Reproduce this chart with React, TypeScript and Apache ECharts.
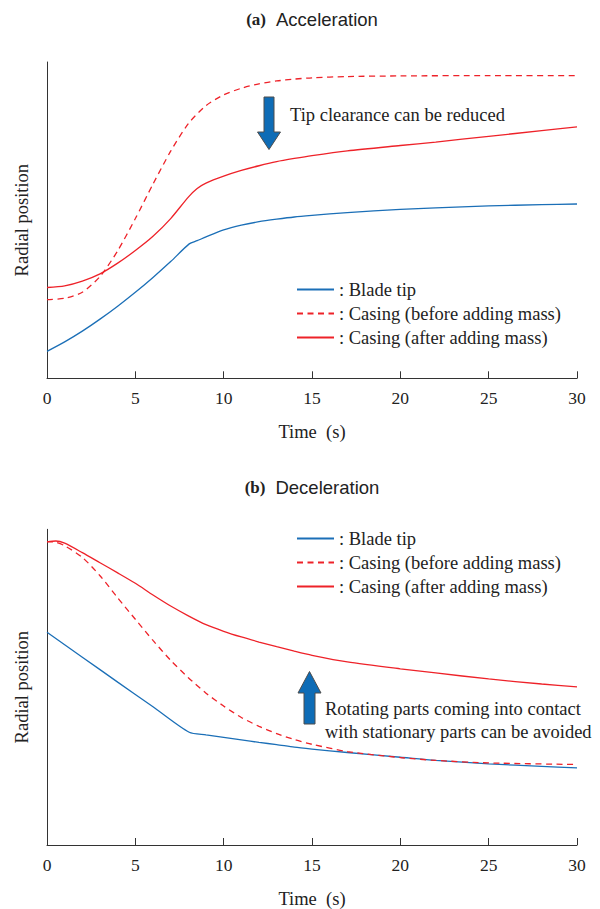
import React, { useEffect, useRef } from "react";
import * as echarts from "echarts";

// ---------- (a) Acceleration ----------
const bladeAccT = [0, 1, 2, 3, 4, 5, 6, 7, 8.05, 8.5, 9, 10, 11, 12, 13, 14, 15, 17, 20, 22, 25, 28, 30];
const bladeAccV = [8.5, 11.5, 14.9, 18.7, 22.8, 27.2, 31.9, 36.9, 42.5, 43.5, 44.7, 46.9, 48.4, 49.5, 50.3, 51.0, 51.5, 52.4, 53.4, 53.9, 54.5, 54.9, 55.1];

const casingBeforeAccT = [0, 1, 2, 3, 4, 5, 6, 7, 8, 9, 10, 11, 12, 13, 14, 15, 17, 20, 25, 30];
const casingBeforeAccV = [24.9, 25.3, 27.2, 32.2, 40.3, 50.5, 61.4, 71.8, 80.5, 86.2, 89.6, 91.7, 93.1, 94.0, 94.6, 95.0, 95.4, 95.6, 95.7, 95.7];

const casingAfterAccT = [0, 1, 2, 3, 4, 5, 6, 7, 8, 8.5, 9, 10, 11, 12, 13, 14, 15, 17, 20, 22, 25, 28, 30];
const casingAfterAccV = [28.7, 29.2, 30.7, 33.0, 36.4, 40.4, 44.9, 50.5, 57.3, 60.0, 61.7, 63.9, 65.7, 67.2, 68.5, 69.5, 70.4, 71.9, 73.6, 74.7, 76.5, 78.3, 79.5];

// ---------- (b) Deceleration ----------
const bladeDecT = [0, 2, 4, 6, 8.05, 9, 10, 11, 12, 13, 14, 15, 17, 20, 22, 25, 28, 30];
const bladeDecV = [67.4, 59.5, 51.6, 43.8, 35.7, 34.9, 34.1, 33.3, 32.5, 31.8, 31.0, 30.4, 29.3, 27.8, 26.8, 25.7, 24.9, 24.4];

const casingBeforeDecT = [0, 0.5, 1, 2, 3, 4, 5, 6, 7, 8, 9, 10, 11, 12, 13, 14, 15, 17, 20, 22, 25, 30];
const casingBeforeDecV = [96.1, 95.9, 94.8, 91.1, 85.3, 78.3, 71.5, 64.8, 58.5, 53.0, 48.1, 44.0, 40.4, 37.6, 35.3, 33.4, 31.9, 29.6, 27.7, 26.8, 26.0, 25.5];

const casingAfterDecT = [0, 0.5, 1, 2, 3, 4, 5, 6, 7, 8, 9, 10, 11, 12, 13, 14, 15, 17, 20, 22, 25, 28, 30];
const casingAfterDecV = [96.0, 96.3, 95.6, 92.6, 89.4, 86.2, 82.9, 79.2, 75.7, 72.6, 69.8, 67.7, 65.9, 64.3, 62.8, 61.4, 60.1, 58.0, 55.8, 54.5, 52.6, 51.0, 50.1];

const seriesNames = ["Blade tip", "Casing (before adding mass)", "Casing (after adding mass)"];
const panelTitles = [["(a)", "Acceleration"], ["(b)", "Deceleration"]];
const xTitle = "Time  (s)";
const yTitle = "Radial position";
const accelNote = "Tip clearance can be reduced";
const decelNote = "Rotating parts coming into contact\nwith stationary parts can be avoided";

const BLUE = "#1b6fb7";
const RED = "#ee2229";
const SERIF = "Liberation Serif";
const SANS = "Liberation Sans";
const TEXT = "#222";

const zip = (t: number[], v: number[]) => t.map((x, i) => [x, v[i]]);

function lineSeries(name: string, t: number[], v: number[], idx: number, color: string, dashed: boolean) {
  return {
    name,
    type: "line",
    xAxisIndex: idx,
    yAxisIndex: idx,
    data: zip(t, v),
    symbol: "none",
    showSymbol: false,
    smooth: 0.25,
    lineStyle: { color, width: 1.3, type: dashed ? [6, 4.5] : "solid" },
    itemStyle: { color },
    emphasis: { disabled: true },
  };
}

function xAxisFor(idx: number) {
  return {
    type: "value",
    gridIndex: idx,
    min: 0,
    max: 30,
    interval: 5,
    name: xTitle,
    nameLocation: "middle",
    nameGap: 44,
    nameTextStyle: { fontFamily: SERIF, fontSize: 18.5, color: TEXT },
    axisLine: { lineStyle: { color: "#333", width: 1 } },
    axisTick: { show: true, inside: true, length: 7, lineStyle: { color: "#333" } },
    axisLabel: { fontFamily: SERIF, fontSize: 17.5, color: TEXT, margin: 11 },
    splitLine: { show: false },
  };
}

function yAxisFor(idx: number) {
  return {
    type: "value",
    gridIndex: idx,
    min: 0,
    max: 100,
    name: yTitle,
    nameLocation: "middle",
    nameGap: 16,
    nameTextStyle: { fontFamily: SERIF, fontSize: 18.5, color: TEXT },
    axisLine: { show: true, lineStyle: { color: "#333", width: 1 } },
    axisTick: { show: false },
    axisLabel: { show: false },
    splitLine: { show: false },
  };
}

function legendFor(top: number) {
  return {
    orient: "vertical",
    left: 296,
    top,
    padding: 0,
    itemWidth: 37,
    itemHeight: 14,
    itemGap: 5,
    align: "left",
    selectedMode: false,
    data: seriesNames,
    formatter: (n: string) => ": " + n,
    itemStyle: { opacity: 0 },
    textStyle: { fontFamily: SERIF, fontSize: 18.5, color: TEXT },
  };
}

function titleFor(idx: number, top: number) {
  return {
    text: `{a|${panelTitles[idx][0]}}  {b|${panelTitles[idx][1]}}`,
    left: 312,
    top,
    padding: 0,
    textAlign: "center",
    textStyle: {
      fontWeight: "normal",
      rich: {
        a: { fontFamily: SERIF, fontWeight: "bold", fontSize: 17, color: TEXT },
        b: { fontFamily: SANS, fontWeight: "normal", fontSize: 18.5, color: TEXT },
      },
    },
  };
}

export default function App() {
  const ref = useRef<HTMLDivElement>(null);

  useEffect(() => {
    if (!ref.current) return;
    const chart = echarts.init(ref.current, null, { renderer: "svg", width: 600, height: 909 });

    const arrowStyle = { fill: "#0e6cb6", stroke: "#4d4d4d", lineWidth: 1 };

    chart.setOption({
      animation: false,
      backgroundColor: "#ffffff",
      title: [titleFor(0, 10), titleFor(1, 478)],
      grid: [
        { left: 47, right: 23, top: 62, height: 316.3 },
        { left: 47, right: 23, top: 529.3, height: 317.4 },
      ],
      xAxis: [xAxisFor(0), xAxisFor(1)],
      yAxis: [yAxisFor(0), yAxisFor(1)],
      legend: [legendFor(280), legendFor(529)],
      series: [
        lineSeries(seriesNames[0], bladeAccT, bladeAccV, 0, BLUE, false),
        lineSeries(seriesNames[1], casingBeforeAccT, casingBeforeAccV, 0, RED, true),
        lineSeries(seriesNames[2], casingAfterAccT, casingAfterAccV, 0, RED, false),
        lineSeries(seriesNames[0], bladeDecT, bladeDecV, 1, BLUE, false),
        lineSeries(seriesNames[1], casingBeforeDecT, casingBeforeDecV, 1, RED, true),
        lineSeries(seriesNames[2], casingAfterDecT, casingAfterDecV, 1, RED, false),
      ],
      graphic: [
        // downward arrow: clearance shrinks
        {
          type: "polygon",
          shape: {
            points: [
              [264, 97], [274, 97], [274, 132], [280.5, 132],
              [269, 149.5], [257.5, 132], [264, 132],
            ],
          },
          style: arrowStyle,
        },
        {
          type: "text",
          x: 290,
          y: 115,
          style: { text: accelNote, fontFamily: SERIF, fontSize: 18.5, fill: TEXT, align: "left", verticalAlign: "middle" },
        },
        // upward arrow: contact avoided
        {
          type: "polygon",
          shape: {
            points: [
              [309.5, 671.5], [321, 693], [315, 693], [315, 724],
              [304, 724], [304, 693], [298, 693],
            ],
          },
          style: arrowStyle,
        },
        {
          type: "text",
          x: 325,
          y: 698,
          style: { text: decelNote, fontFamily: SERIF, fontSize: 18.5, lineHeight: 22.5, fill: TEXT, align: "left", verticalAlign: "top" },
        },
      ],
    });

    return () => chart.dispose();
  }, []);

  return (
    <div
      ref={ref}
      style={{ position: "absolute", left: 0, top: 0, width: 600, height: 909, background: "#fff" }}
    />
  );
}
